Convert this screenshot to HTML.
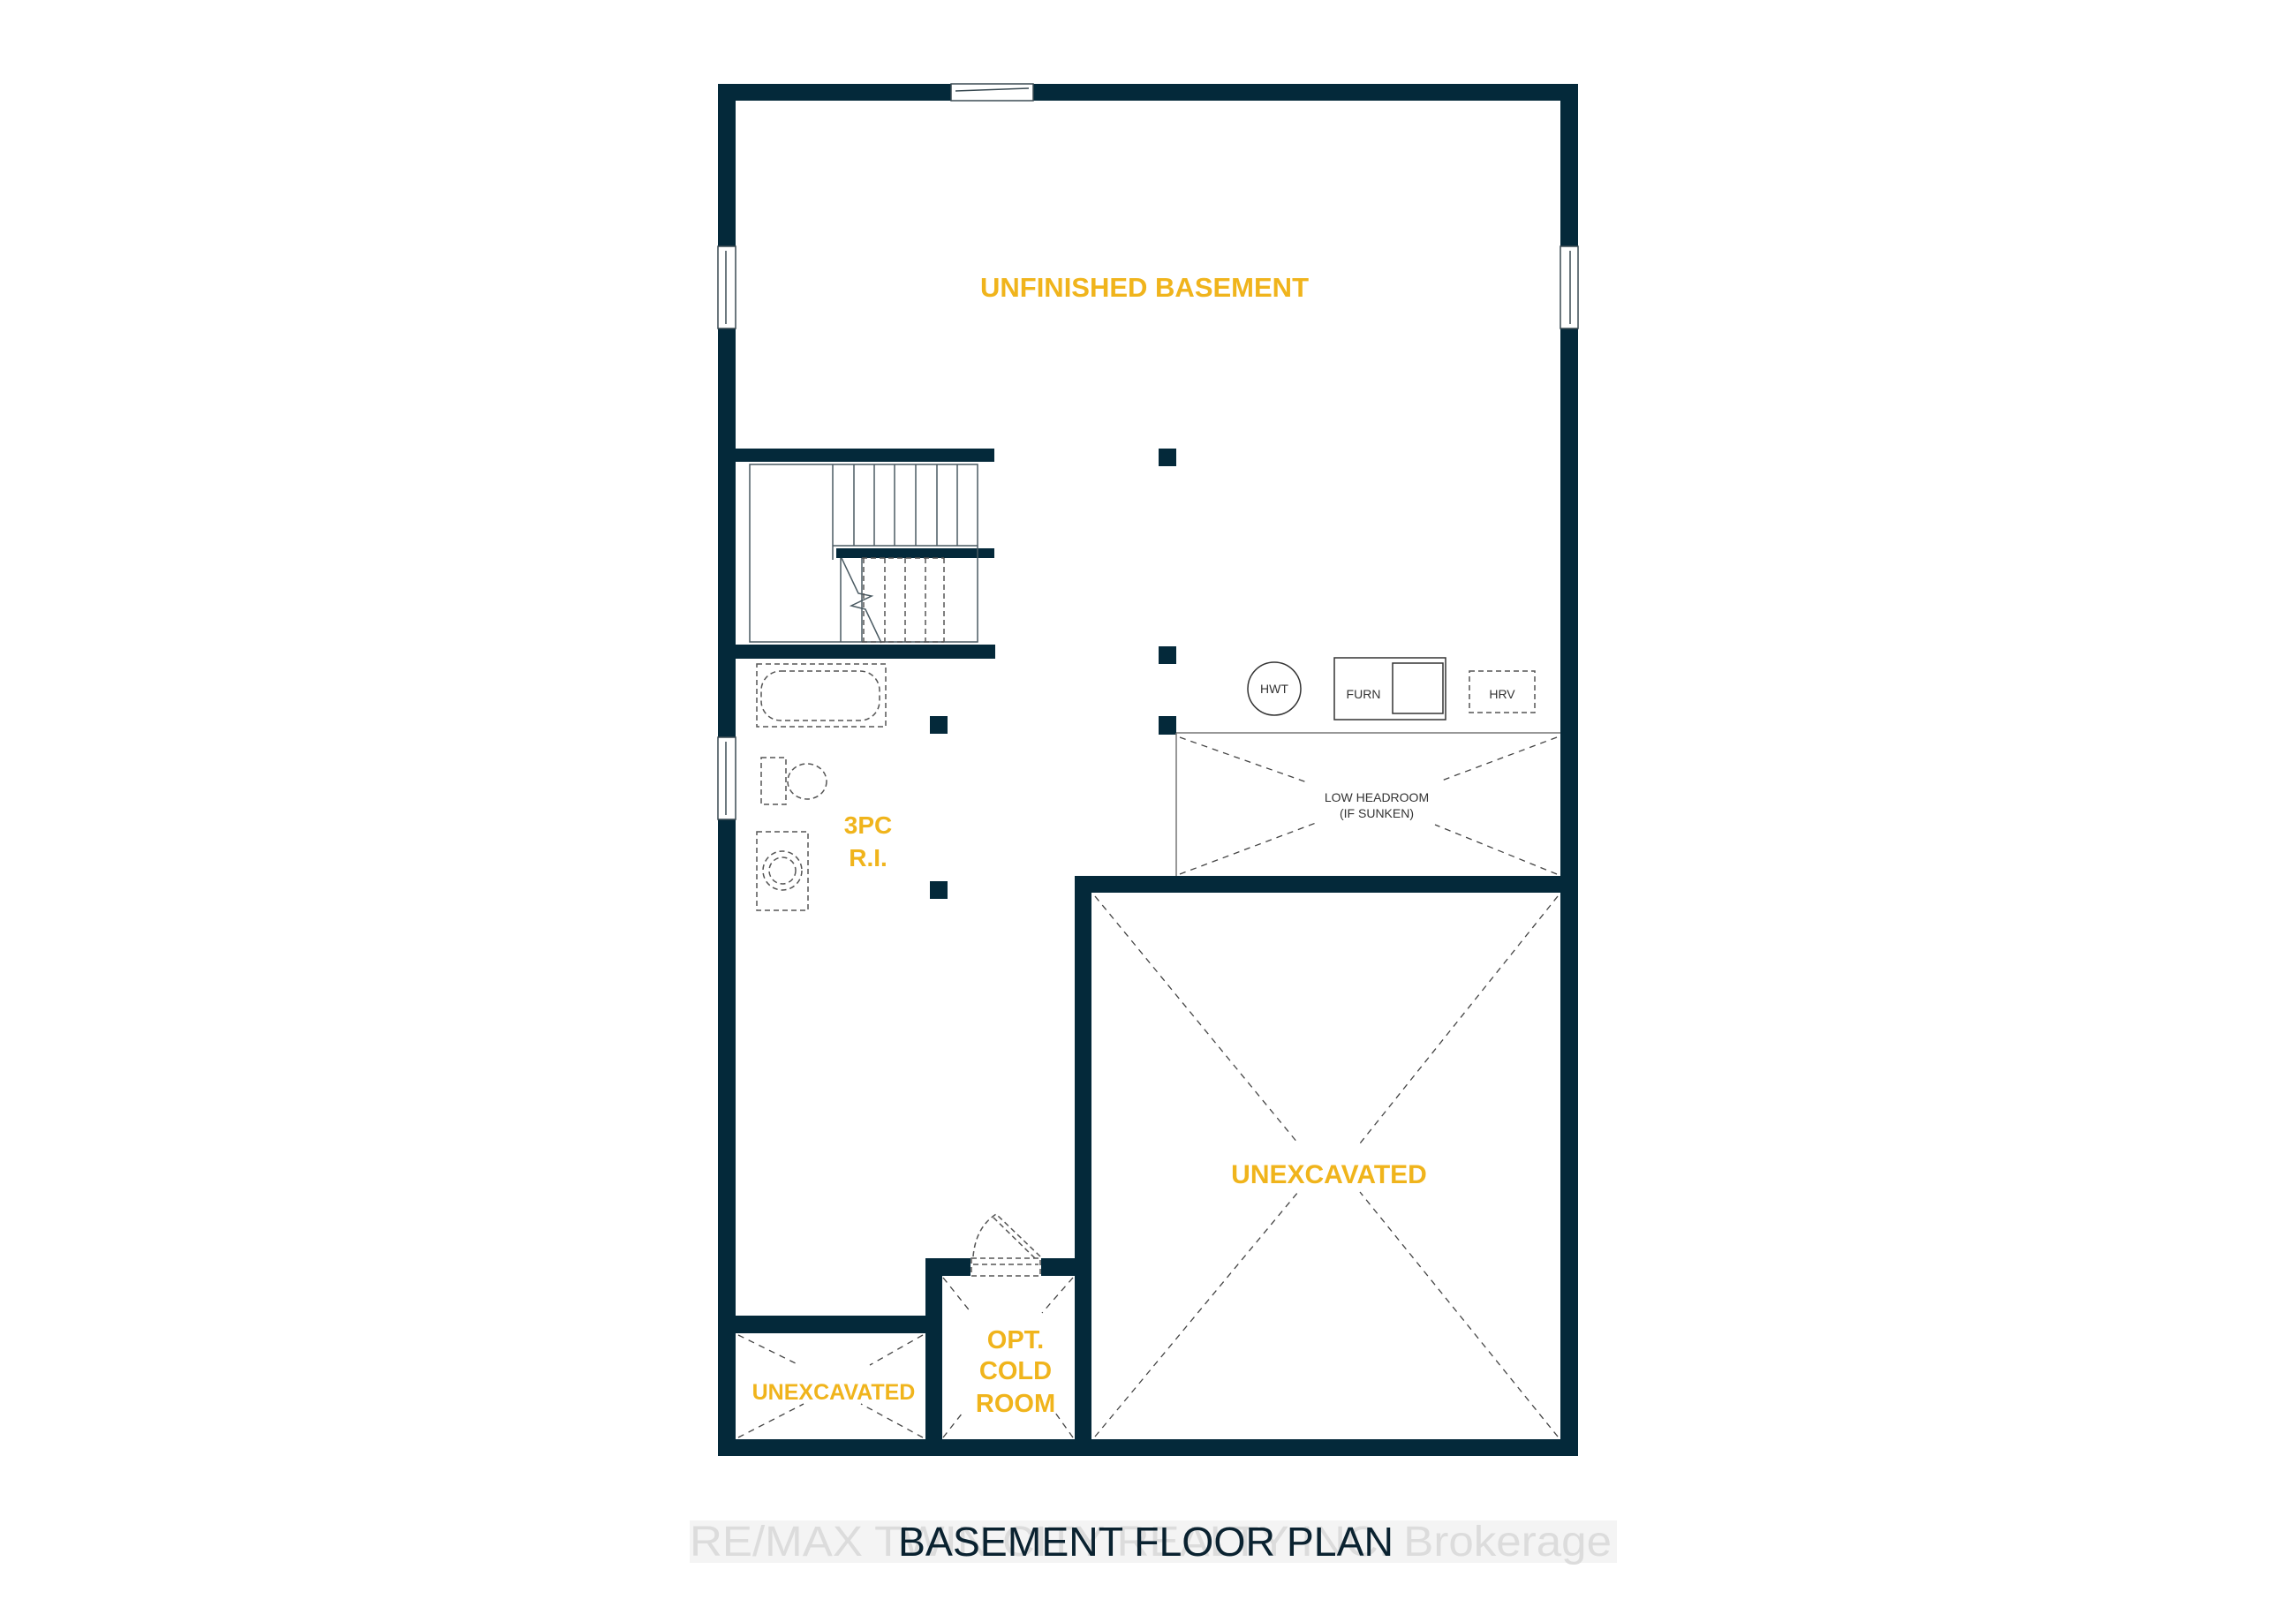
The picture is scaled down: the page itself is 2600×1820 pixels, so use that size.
<!DOCTYPE html>
<html><head><meta charset="utf-8"><style>
html,body{margin:0;padding:0;background:#fff;}
svg{display:block;}
</style></head><body>
<svg width="2600" height="1820" viewBox="0 0 2600 1820" xmlns="http://www.w3.org/2000/svg" font-family="Liberation Sans, sans-serif">
<rect width="2600" height="1820" fill="#fff"/>
<g fill="#04293a">
<rect x="813" y="95" width="974" height="19"/>
<rect x="813" y="95" width="20" height="1554"/>
<rect x="1767" y="95" width="20" height="1554"/>
<rect x="813" y="1630" width="974" height="19"/>
<rect x="833" y="508" width="293" height="15"/>
<rect x="947" y="621" width="179" height="11"/>
<rect x="833" y="730" width="294" height="16"/>
<rect x="833" y="1490" width="215" height="20"/>
<rect x="1048" y="1425" width="19" height="205"/>
<rect x="1048" y="1425" width="188" height="20"/>
<rect x="1217" y="992" width="19" height="638"/>
<rect x="1217" y="992" width="550" height="19"/>
<rect x="1312" y="508" width="20" height="20"/>
<rect x="1312" y="732" width="20" height="20"/>
<rect x="1312" y="811" width="20" height="21"/>
<rect x="1053" y="811" width="20" height="20"/>
<rect x="1053" y="998" width="20" height="20"/>
</g>
<g fill="#fff" stroke="#3a4a52" stroke-width="1.5">
<rect x="1077" y="95" width="93" height="19"/>
<line x1="1082" y1="103" x2="1165" y2="100"/>
<rect x="813" y="279" width="20" height="93"/>
<line x1="822" y1="284" x2="822" y2="367"/>
<rect x="1767" y="279" width="20" height="93"/>
<line x1="1778" y1="284" x2="1778" y2="367"/>
<rect x="813" y="835" width="20" height="93"/>
<line x1="822" y1="840" x2="822" y2="923"/>
</g>
<rect x="1099" y="1425" width="80" height="20" fill="#fff"/>
<g fill="none" stroke="#555" stroke-width="1.5" stroke-dasharray="6,4">
<rect x="1100" y="1425" width="78" height="20"/>
<line x1="1102" y1="1432" x2="1176" y2="1432"/>
<line x1="1178" y1="1423" x2="1128" y2="1375"/>
<line x1="1172" y1="1425" x2="1124" y2="1378"/>
<path d="M1102 1423 Q1105 1390 1128 1375"/>
</g>
<g fill="none" stroke="#4a5a62" stroke-width="1.5">
<rect x="849" y="526" width="258" height="201"/>
<line x1="943" y1="526" x2="943" y2="618"/><line x1="967" y1="526" x2="967" y2="618"/>
<line x1="990" y1="526" x2="990" y2="618"/><line x1="1013" y1="526" x2="1013" y2="618"/>
<line x1="1037" y1="526" x2="1037" y2="618"/><line x1="1061" y1="526" x2="1061" y2="618"/>
<line x1="1084" y1="526" x2="1084" y2="618"/>
<line x1="943" y1="618" x2="1107" y2="618"/>
<line x1="943" y1="618" x2="943" y2="634"/>
<line x1="952" y1="632" x2="952" y2="727"/><line x1="976" y1="632" x2="976" y2="727"/>
<polyline points="953,632 972,672 987,675 964,686 980,690 998,728"/>
</g>
<g fill="none" stroke="#555" stroke-width="1.5" stroke-dasharray="6,4">
<line x1="978" y1="632" x2="978" y2="727"/><line x1="1002" y1="632" x2="1002" y2="727"/>
<line x1="1025" y1="632" x2="1025" y2="727"/><line x1="1048" y1="632" x2="1048" y2="727"/>
<line x1="1069" y1="632" x2="1069" y2="727"/>
<line x1="976" y1="727" x2="1069" y2="727"/>
<line x1="976" y1="632" x2="1069" y2="632"/>
<rect x="857" y="752" width="146" height="71"/>
<rect x="862" y="760" width="134" height="56" rx="22"/>
<rect x="862" y="858" width="28" height="53"/>
<ellipse cx="914" cy="885" rx="22" ry="20"/>
<rect x="857" y="942" width="58" height="89"/>
<circle cx="886" cy="986" r="22"/>
<circle cx="886" cy="986" r="15"/>
<rect x="1664" y="760" width="74" height="47"/>
</g>
<g fill="none" stroke="#333" stroke-width="1.5">
<circle cx="1443" cy="780" r="30"/>
<rect x="1511" y="745" width="126" height="70"/>
<rect x="1577" y="751" width="57" height="57"/>
</g>
<g fill="#333" font-size="14" text-anchor="middle">
<text x="1443" y="785">HWT</text>
<text x="1544" y="791">FURN</text>
<text x="1701" y="791">HRV</text>
<text x="1559" y="908">LOW HEADROOM</text>
<text x="1559" y="926">(IF SUNKEN)</text>
</g>
<g fill="none" stroke="#777" stroke-width="1.5">
<line x1="1332" y1="830" x2="1767" y2="830"/>
<line x1="1332" y1="830" x2="1332" y2="992"/>
</g>
<g fill="none" stroke="#444" stroke-width="1.3" stroke-dasharray="7,6">
<line x1="1336" y1="835" x2="1480" y2="886"/><line x1="1763" y1="835" x2="1630" y2="885"/>
<line x1="1336" y1="990" x2="1490" y2="932"/><line x1="1763" y1="990" x2="1625" y2="934"/>
<line x1="1240" y1="1015" x2="1470" y2="1295"/><line x1="1764" y1="1015" x2="1540" y2="1295"/>
<line x1="1240" y1="1627" x2="1470" y2="1350"/><line x1="1764" y1="1627" x2="1540" y2="1350"/>
<line x1="836" y1="1512" x2="905" y2="1546"/><line x1="1045" y1="1512" x2="985" y2="1546"/>
<line x1="836" y1="1628" x2="910" y2="1590"/><line x1="1045" y1="1628" x2="975" y2="1590"/>
<line x1="1068" y1="1447" x2="1100" y2="1487"/><line x1="1215" y1="1447" x2="1180" y2="1487"/>
<line x1="1068" y1="1628" x2="1090" y2="1600"/><line x1="1215" y1="1628" x2="1195" y2="1600"/>
</g>
<g fill="#f0b41c" font-weight="bold" text-anchor="middle">
<text x="1296" y="336" font-size="31">UNFINISHED BASEMENT</text>
<text x="983" y="944" font-size="28">3PC</text>
<text x="983" y="981" font-size="28">R.I.</text>
<text x="1505" y="1340" font-size="30">UNEXCAVATED</text>
<text x="944" y="1585" font-size="25">UNEXCAVATED</text>
<text x="1150" y="1527" font-size="29">OPT.</text>
<text x="1150" y="1562" font-size="29">COLD</text>
<text x="1150" y="1599" font-size="29">ROOM</text>
</g>
<rect x="781" y="1722" width="1050" height="48" fill="#f4f4f4"/>
<text x="781" y="1762" font-size="48" fill="#dcdcdc" textLength="1044" lengthAdjust="spacingAndGlyphs">RE/MAX TWIN CITY REALTY INC. Brokerage</text>
<text x="1017" y="1762" font-size="46" fill="#0a2230" textLength="561" lengthAdjust="spacingAndGlyphs">BASEMENT FLOOR PLAN</text>
</svg>
</body></html>
